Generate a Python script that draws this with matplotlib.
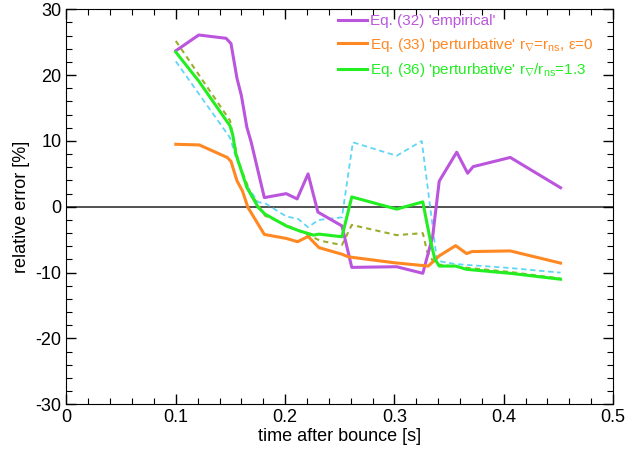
import numpy as np
import matplotlib
matplotlib.use('Agg')
import matplotlib.pyplot as plt

plt.rcParams['font.family'] = ['Liberation Sans', 'DejaVu Sans']
plt.rcParams['axes.unicode_minus'] = False
plt.rcParams['mathtext.fontset'] = 'custom'
plt.rcParams['mathtext.rm'] = 'Liberation Sans'

# Eq. (32) empirical
t_emp = [0.100, 0.121, 0.146, 0.1505, 0.156, 0.160, 0.165, 0.169, 0.181, 0.201, 0.211,
         0.221, 0.230, 0.252, 0.261, 0.302, 0.326, 0.335, 0.341, 0.357, 0.367, 0.372, 0.406, 0.452]
v_emp = [23.7, 26.1, 25.6, 24.8, 19.5, 16.9, 12.1, 9.8, 1.4, 2.0, 1.2,
         5.0, -0.8, -2.9, -9.2, -9.1, -10.1, -4.5, 3.9, 8.3, 5.1, 6.1, 7.5, 2.9]

# Eq. (33) perturbative, r_nabla = r_ns, eps = 0
t_p33 = [0.100, 0.1215, 0.147, 0.1505, 0.156, 0.161, 0.166, 0.181, 0.201, 0.2115,
         0.221, 0.231, 0.252, 0.258, 0.300, 0.331, 0.341, 0.356, 0.366, 0.371, 0.406, 0.452]
v_p33 = [9.5, 9.4, 7.5, 6.9, 3.95, 2.4, -0.1, -4.2, -4.8, -5.3,
         -4.5, -6.2, -7.2, -7.6, -8.5, -9.0, -7.45, -5.9, -7.1, -6.8, -6.7, -8.55]

# Eq. (36) perturbative, r_nabla / r_ns = 1.3
t_p36 = [0.100, 0.121, 0.1496, 0.152, 0.155, 0.165, 0.1755, 0.1816, 0.201, 0.213,
         0.226, 0.231, 0.252, 0.261, 0.302, 0.326, 0.3326, 0.337, 0.341, 0.356, 0.366, 0.406, 0.452]
v_p36 = [23.5, 19.1, 12.3, 11.0, 8.0, 2.95, -0.1, -1.1, -2.9, -3.65,
         -4.3, -4.15, -4.55, 1.5, -0.35, 0.75, -4.9, -7.95, -9.0, -9.0, -9.5, -10.1, -11.0]

# unlabelled dashed curves
t_olive = [0.100, 0.1496, 0.152, 0.157, 0.168, 0.1816, 0.192, 0.213, 0.226, 0.232,
           0.252, 0.261, 0.302, 0.326, 0.330, 0.337, 0.356, 0.406, 0.452]
v_olive = [25.2, 13.1, 11.0, 7.0, 2.2, -1.35, -2.1, -3.65, -4.65, -5.15,
           -5.8, -2.75, -4.3, -4.0, -6.85, -8.7, -9.1, -9.9, -10.9]

t_cyan = [0.100, 0.1496, 0.155, 0.165, 0.1755, 0.1816, 0.201, 0.212, 0.221, 0.2305,
          0.252, 0.262, 0.302, 0.325, 0.339, 0.356, 0.406, 0.452]
v_cyan = [22.1, 10.5, 7.6, 3.2, 0.7, 0.55, -1.45, -1.85, -3.1, -2.0,
          -1.6, 9.8, 7.75, 10.0, -8.2, -8.7, -9.3, -10.0]

fig = plt.figure(figsize=(6.29, 4.57), dpi=100)
ax = fig.add_axes([0.1057, 0.1153, 0.8689, 0.8643])

ax.axhline(0, color='#222222', lw=1.1, zorder=1)
ax.plot(t_cyan, v_cyan, color='#5fd6f7', lw=1.3, ls=(0, (3, 2)))
ax.plot(t_olive, v_olive, color='#9aae2c', lw=1.5, ls=(0, (2.5, 2)))
l1, = ax.plot(t_emp, v_emp, color='#bb55dd', lw=2.2, label="Eq. (32) 'empirical'")
l2, = ax.plot(t_p33, v_p33, color='#ff8822', lw=2.2,
              label="Eq. (33) 'perturbative' r$_{\\nabla}$=r$_{\\rm ns}$, \u03b5=0")
l3, = ax.plot(t_p36, v_p36, color='#22ee22', lw=2.2,
              label="Eq. (36) 'perturbative' r$_{\\nabla}$/r$_{\\rm ns}$=1.3")

ax.set_xlim(0, 0.5)
ax.set_ylim(-30, 30)
ax.set_xticks(np.arange(0, 0.51, 0.1))
ax.set_xticklabels(['0', '0.1', '0.2', '0.3', '0.4', '0.5'])
ax.set_xticks(np.arange(0, 0.501, 0.02), minor=True)
ax.set_yticks(np.arange(-30, 31, 10))
ax.set_yticks(np.arange(-30, 31, 2), minor=True)
ax.tick_params(which='both', direction='in', top=True, right=True, labelsize=13)
ax.tick_params(which='major', length=7, width=1)
ax.tick_params(which='minor', length=4, width=0.8)
ax.set_xlabel('time after bounce [s]', fontsize=13, labelpad=1)
ax.set_ylabel('relative error [%]', fontsize=13, labelpad=4)

leg = ax.legend(handles=[l1, l2, l3], loc='upper right', bbox_to_anchor=(0.972, 1.0),
                frameon=False, fontsize=11, labelcolor='linecolor', handlelength=1.9,
                handletextpad=0.15, borderaxespad=0.0, borderpad=0.3, labelspacing=0.5)

fig.savefig('out.png', dpi=100)
